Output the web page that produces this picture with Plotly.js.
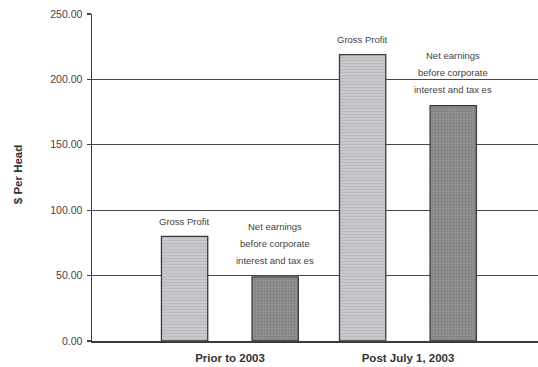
<!DOCTYPE html>
<html>
<head>
<meta charset="utf-8">
<script src="https://cdn.plot.ly/plotly-3.0.1.min.js"></script>
<style>
  html, body { margin: 0; padding: 0; background: #fff; }
  #chart { width: 538px; height: 367px; }
</style>
</head>
<body>
<div id="chart"></div>
<script>
// Periods on the category axis
const periods = ["Prior to 2003", "Post July 1, 2003"];

// $ per head for each period
const grossProfit = [80, 219];
const netEarnings = [49, 180];

// Text written above each bar
const grossLabel = ["Gross Profit"];
const netLabel = ["Net earnings", "before corporate", "interest and tax es"];

// Axis ticks
const yTicks = [0, 50, 100, 150, 200, 250];

const catPos = periods.map((_, i) => i);
const barWidth = 0.26;
const grossOffset = -0.385;
const netOffset = 0.124;

const font = "Arial, 'Liberation Sans', sans-serif";

const traces = [
  {
    type: "bar",
    x: catPos,
    y: grossProfit,
    width: barWidth,
    offset: grossOffset,
    marker: {
      color: "#c6c6ca",
      line: { color: "#3a3a3a", width: 1.3 },
      pattern: { shape: "-", fgcolor: "#b2b2b6", bgcolor: "#c9c9cd", size: 3, solidity: 0.2 }
    },
    hoverinfo: "skip",
    showlegend: false
  },
  {
    type: "bar",
    x: catPos,
    y: netEarnings,
    width: barWidth,
    offset: netOffset,
    marker: {
      color: "#8e8e8e",
      line: { color: "#3a3a3a", width: 1.3 },
      pattern: { shape: ".", fgcolor: "#7c7c7c", bgcolor: "#909090", size: 3, solidity: 0.3 }
    },
    hoverinfo: "skip",
    showlegend: false
  }
];

// Labels placed above the bars, one annotation per text line
const annotations = [];
const labelFont = { family: font, size: 9.5, color: "#444" };
const lineStep = 17;
catPos.forEach((c, i) => {
  grossLabel.forEach((line, k) => {
    annotations.push({
      x: c + grossOffset + barWidth / 2, y: grossProfit[i],
      xref: "x", yref: "y", text: line, showarrow: false,
      xanchor: "center", yanchor: "middle",
      yshift: 15 + (grossLabel.length - 1 - k) * lineStep,
      font: labelFont
    });
  });
  netLabel.forEach((line, k) => {
    annotations.push({
      x: c + netOffset + barWidth / 2, y: netEarnings[i],
      xref: "x", yref: "y", text: line, showarrow: false,
      xanchor: "center", yanchor: "middle",
      yshift: 16 + (netLabel.length - 1 - k) * lineStep,
      font: labelFont
    });
  });
});

// Vertical axis title
annotations.push({
  xref: "paper", yref: "paper", x: -0.166, y: 0.51,
  text: "<b>$ Per Head</b>", showarrow: false, textangle: -90,
  xanchor: "center", yanchor: "middle",
  font: { family: font, size: 11.5, color: "#333" }
});

const layout = {
  width: 538,
  height: 367,
  margin: { l: 92, r: 0, t: 14, b: 26, pad: 0 },
  paper_bgcolor: "#ffffff",
  plot_bgcolor: "#ffffff",
  xaxis: {
    range: [-0.775, 1.73],
    tickvals: catPos,
    ticktext: periods.map(p => "<b>" + p + "</b>"),
    ticks: "",
    ticklabelstandoff: 6,
    tickfont: { family: font, size: 11.5, color: "#333" },
    showgrid: false,
    zeroline: false,
    showline: true,
    linecolor: "#3a3a3a",
    linewidth: 1.5,
    fixedrange: true
  },
  yaxis: {
    range: [0, 250],
    tickvals: yTicks,
    tickformat: ".2f",
    ticks: "outside",
    ticklen: 4,
    tickcolor: "#444",
    tickwidth: 1.2,
    ticklabelstandoff: 2,
    tickfont: { family: font, size: 10.5, color: "#444" },
    showgrid: true,
    gridcolor: "#484848",
    gridwidth: 1.2,
    zeroline: false,
    showline: true,
    linecolor: "#3a3a3a",
    linewidth: 1.5,
    fixedrange: true
  },
  annotations: annotations,
  bargap: 0,
  showlegend: false
};

Plotly.newPlot("chart", traces, layout, { displayModeBar: false, staticPlot: true });
</script>
</body>
</html>
